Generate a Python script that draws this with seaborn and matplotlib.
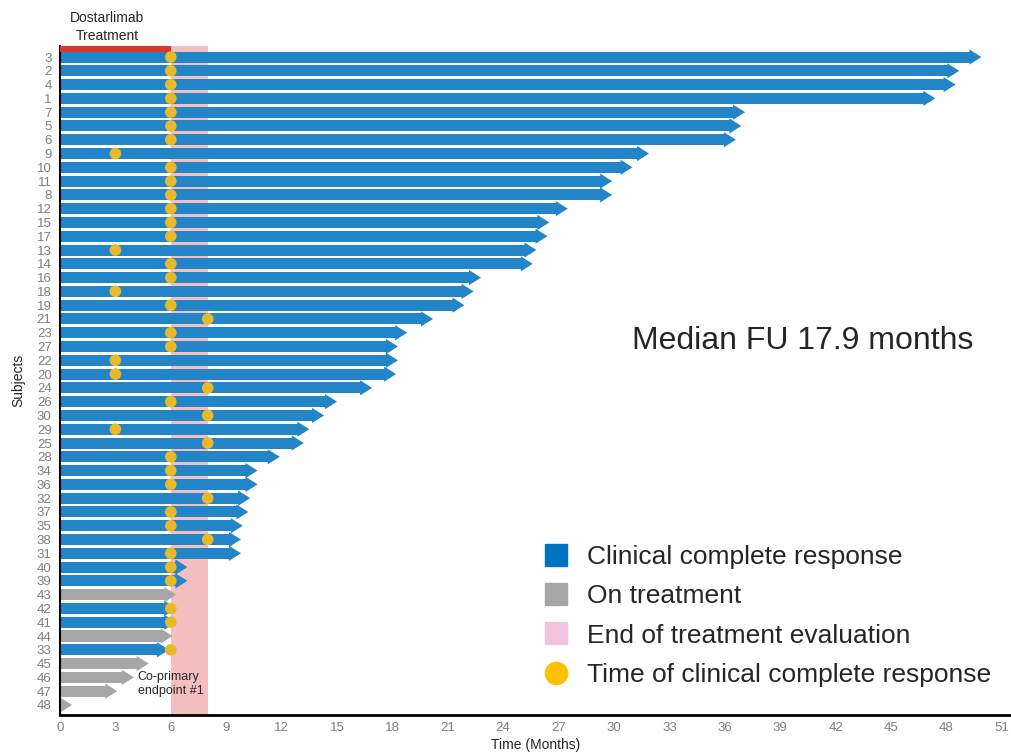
import matplotlib
matplotlib.use("Agg")
import matplotlib.pyplot as plt
from matplotlib.lines import Line2D
import numpy as np
import pandas as pd
import seaborn as sns

# Subjects listed top to bottom in swimmer order
subjects = ["3", "2", "4", "1", "7", "5", "6", "9", "10", "11", "8", "12", "15", "17",
            "13", "14", "16", "18", "19", "21", "23", "27", "22", "20", "24", "26", "30",
            "29", "25", "28", "34", "36", "32", "37", "35", "38", "31", "40", "39", "43",
            "42", "41", "44", "33", "45", "46", "47", "48"]

# Follow-up time in months (end of each arrow)
followup = [49.9, 48.7, 48.5, 47.4, 37.1, 36.9, 36.6, 31.9, 31.0, 29.9, 29.9, 27.5, 26.5, 26.4,
            25.8, 25.6, 22.8, 22.4, 21.9, 20.2, 18.8, 18.3, 18.3, 18.2, 16.9, 15.0, 14.3,
            13.5, 13.2, 11.9, 10.7, 10.7, 10.3, 10.2, 9.9, 9.8, 9.8, 6.9, 6.9, 6.3,
            6.3, 6.3, 6.1, 5.9, 4.8, 4.0, 3.1, 0.65]

# Current status of each subject
status = ["cCR"] * 39 + ["On treatment", "cCR", "cCR", "On treatment", "cCR",
                         "On treatment", "On treatment", "On treatment", "On treatment"]

# Month at which clinical complete response was recorded (NaN = none)
ccr_time = [6, 6, 6, 6, 6, 6, 6, 3, 6, 6, 6, 6, 6, 6,
            3, 6, 6, 3, 6, 8, 6, 6, 3, 3, 8, 6, 8,
            3, 8, 6, 6, 6, 8, 6, 6, 8, 6, 6, 6, np.nan,
            6, 6, np.nan, 6, np.nan, np.nan, np.nan, np.nan]

x_ticks = list(range(0, 52, 3))
treatment_end = 6
evaluation_window = (6, 8)

legend_labels = ["Clinical complete response", "On treatment",
                 "End of treatment evaluation", "Time of clinical complete response"]

BLUE = "#2185C7"
GRAY = "#A6A6A6"
PINK = "#F5BFC0"
RED = "#E0352B"
GOLD = "#E8B928"
TICK_GRAY = "#7F7F7F"

HEAD_LEN = 0.65   # arrow head length, months
HEAD_W = 1.1      # arrow head width, rows
BAR_W = 0.8

df = pd.DataFrame({"subject": subjects, "followup": followup,
                   "status": status, "ccr": ccr_time})
# shaft overlaps the head slightly so no seam shows between them
df["shaft"] = df["followup"] - HEAD_LEN + 0.12

sns.set_theme(style="white")
plt.rcParams["font.family"] = ["Liberation Sans", "DejaVu Sans"]

fig = plt.figure(figsize=(10.12, 7.55), dpi=100)
ax = fig.add_axes([60 / 1012, 1 - 715 / 755, 1 - 60 / 1012 - 0.001, (715 - 46) / 755])

palette = {"cCR": BLUE, "On treatment": GRAY}

# evaluation window band behind the bars
ax.axvspan(*evaluation_window, color=PINK, zorder=0, lw=0)

sns.barplot(data=df, x="shaft", y="subject", hue="status", order=subjects,
            palette=palette, orient="h", width=BAR_W, dodge=False,
            legend=False, ax=ax, zorder=2, linewidth=0, saturation=1)

# arrow heads at the end of each bar
for i, row in df.iterrows():
    col = palette[row["status"]]
    tip = row["followup"]
    base = tip - HEAD_LEN
    ax.fill([base, tip, base],
            [i - HEAD_W / 2, i, i + HEAD_W / 2], color=col, lw=0, zorder=2)

# response time markers
dots = df.dropna(subset=["ccr"])
sns.scatterplot(x=dots["ccr"], y=dots.index.values, color=GOLD, s=70,
                edgecolor="none", ax=ax, zorder=4)

# treatment period bar on top
ax.barh(-0.58, treatment_end, height=0.44, left=0, color=RED, zorder=3, lw=0)

ax.set_xlim(0, 51.5)
ax.set_ylim(len(subjects) - 1 + 0.73, -0.8)
ax.set_xticks(x_ticks)
ax.set_xticklabels([str(t) for t in x_ticks])
ax.set_yticks(range(len(subjects)))
ax.set_yticklabels(subjects)

for s in ["top", "right"]:
    ax.spines[s].set_visible(False)
ax.spines["left"].set_color("black")
ax.spines["left"].set_linewidth(1.5)
ax.spines["bottom"].set_color("black")
ax.spines["bottom"].set_linewidth(2)
ax.tick_params(axis="both", which="both", direction="out", length=4, width=1,
               color="black", labelcolor=TICK_GRAY, labelsize=9.5, pad=2)
ax.tick_params(axis="x", length=4, pad=1)

ax.set_xlabel("Time (Months)", fontsize=10, labelpad=3)
ax.set_ylabel("Subjects", fontsize=10, labelpad=8)

ax.text(2.55, -2.15, "Dostarlimab\nTreatment", ha="center", va="center",
        fontsize=10, linespacing=1.35, clip_on=False)
ax.text(4.2, 45.5, "Co-primary\nendpoint #1", ha="left", va="center",
        fontsize=9, linespacing=1.2, zorder=5)
ax.text(31.0, 20.6, "Median FU 17.9 months", ha="left", va="center", fontsize=23)

handles = [
    Line2D([], [], marker="s", ls="none", color="#0070C0", markersize=16),
    Line2D([], [], marker="s", ls="none", color=GRAY, markersize=16),
    Line2D([], [], marker="s", ls="none", color="#F0C4DE", markersize=16),
    Line2D([], [], marker="o", ls="none", color="#FFC000", markersize=16),
]
fig.legend(handles, legend_labels, loc="upper left",
           bbox_to_anchor=(543 / 1012, 1 - 545 / 755), frameon=False,
           fontsize=19, handlelength=1.0, handletextpad=0.65,
           labelspacing=0.58, borderpad=0, borderaxespad=0)

fig.savefig("out.png", dpi=100)
